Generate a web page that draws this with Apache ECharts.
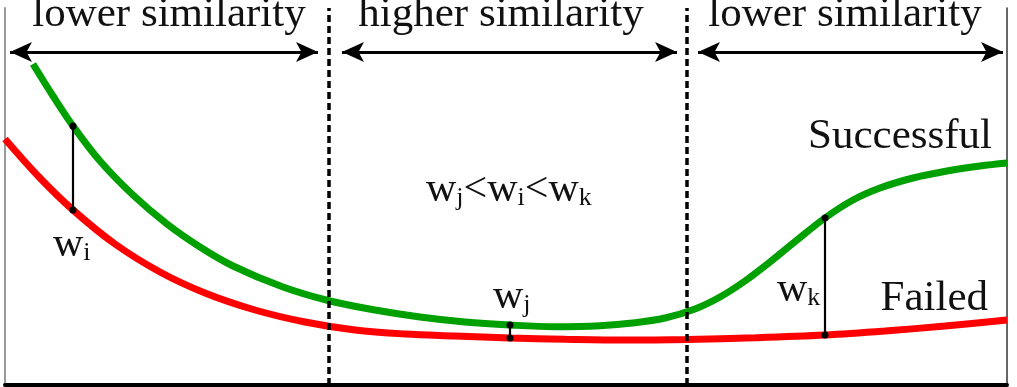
<!DOCTYPE html>
<html><head><meta charset="utf-8">
<script src="https://cdn.jsdelivr.net/npm/echarts@6/dist/echarts.min.js"></script>
<style>html,body{margin:0;padding:0;background:#fff}#c{width:1017px;height:387px}</style>
</head><body><div id="c"></div>
<script>
// ---- data (hidden axes: x 0..1002, y 0..377) ----
const successfulCurve = [[28,321],[48,289],[68,259],[95,224],[128,190],[162,161],[195,138],[228,119],[278,98],[325,84],[370,75],[415,68],[460,63],[505,60],[550,58.3],[595,59.3],[630,62.3],[660,67],[690,76],[715,88],[740,104],[765,123],[792,145],[820,167],[848,185],[875,197],[908,207],[942,214],[975,219],[1002,222]];
const failedCurve = [[0,246],[34,208],[68,175],[110,141],[155,113],[200,92],[250,75],[300,63],[350,55],[400,51],[450,49],[505,47],[560,45.8],[620,45],[682,45.6],[750,47.3],[820,50],[880,54],[940,59],[1002,65]];
const gapX = [68, 505, 820];            // where w_i, w_j, w_k are measured
const gapNames = ['i', 'j', 'k'];
const boundaries = [324, 682];          // dashed region boundaries
const regionLabels = ['lower similarity', 'higher similarity', 'lower similarity'];
const regionFrom = [5, 337, 693];
const regionTo = [313, 672, 998];

// ---- layout / style ----
const FONT = 'Liberation Serif';
const ARROW_Y = 333;
const GREEN = '#00a000', RED = '#ff0000';
const valAt = (arr, x) => arr.find(p => p[0] === x)[1];

const rich = {
  m: {fontFamily: FONT, fontSize: 42, lineHeight: 48, verticalAlign: 'bottom', fill: '#111'},
  s: {fontFamily: FONT, fontSize: 26, lineHeight: 14, verticalAlign: 'bottom', fill: '#111'}
};
function wText(x, y, text) {
  return {type: 'text', x, y, z: 100, style: {text, rich, align: 'left', verticalAlign: 'bottom'}};
}
function plain(x, y, text, align) {
  return {type: 'text', x, y, z: 100, style: {text, fontFamily: FONT, fontSize: 43, fill: '#111', align, verticalAlign: 'middle'}};
}

const chart = echarts.init(document.getElementById('c'), null, {renderer: 'canvas'});

const markerSeries = gapX.map(x => ({
  type: 'line', z: 5,
  data: [[x, valAt(successfulCurve, x)], [x, valAt(failedCurve, x)]],
  symbol: 'circle', symbolSize: 7, showSymbol: true,
  lineStyle: {color: '#000', width: 2.2}, itemStyle: {color: '#000'},
  silent: true, animation: false
}));

chart.setOption({
  animation: false,
  grid: {left: 5, right: 10, top: 8, bottom: 2},
  xAxis: {type: 'value', min: 0, max: 1002,
    axisLine: {show: true, onZero: false, lineStyle: {color: '#000', width: 4}},
    axisTick: {show: false}, axisLabel: {show: false}, splitLine: {show: false}},
  yAxis: [
    {type: 'value', min: 0, max: 377, position: 'left',
      axisLine: {show: true, lineStyle: {color: '#999', width: 2}},
      axisTick: {show: false}, axisLabel: {show: false}, splitLine: {show: false}},
    {type: 'value', min: 0, max: 377, position: 'right',
      axisLine: {show: true, lineStyle: {color: '#333', width: 1.5}},
      axisTick: {show: false}, axisLabel: {show: false}, splitLine: {show: false}}
  ],
  series: [
    {type: 'line', name: 'Successful', data: successfulCurve, smooth: 0.35, showSymbol: false,
      lineStyle: {color: GREEN, width: 7}, z: 3,
      markLine: {silent: true, symbol: ['none', 'none'], label: {show: false},
        lineStyle: {color: '#000', width: 3.5, type: [7, 4]},
        data: boundaries.map(b => ({xAxis: b}))}},
    {type: 'line', name: 'Failed', data: failedCurve, smooth: 0.35, showSymbol: false,
      lineStyle: {color: RED, width: 7}, z: 2,
      markLine: {silent: true, symbol: ['arrow', 'arrow'], symbolSize: [15, 22], label: {show: false},
        lineStyle: {color: '#000', width: 3, type: 'solid'},
        data: regionFrom.map((f, i) => [{coord: [f, ARROW_Y]}, {coord: [regionTo[i], ARROW_Y]}])}},
    ...markerSeries
  ],
  graphic: [
    plain(169, 15, regionLabels[0], 'center'),
    plain(501, 15, regionLabels[1], 'center'),
    plain(845, 15, regionLabels[2], 'center'),
    plain(992, 137, 'Successful', 'right'),
    plain(988, 299, 'Failed', 'right'),
    wText(53, 266, '{m|w}{s|' + gapNames[0] + '}'),
    wText(493, 318, '{m|w}{s|' + gapNames[1] + '}'),
    wText(777, 311, '{m|w}{s|' + gapNames[2] + '}'),
    wText(426, 211, '{m|w}{s|j}{m|<w}{s|i}{m|<w}{s|k}')
  ]
});
</script></body></html>
